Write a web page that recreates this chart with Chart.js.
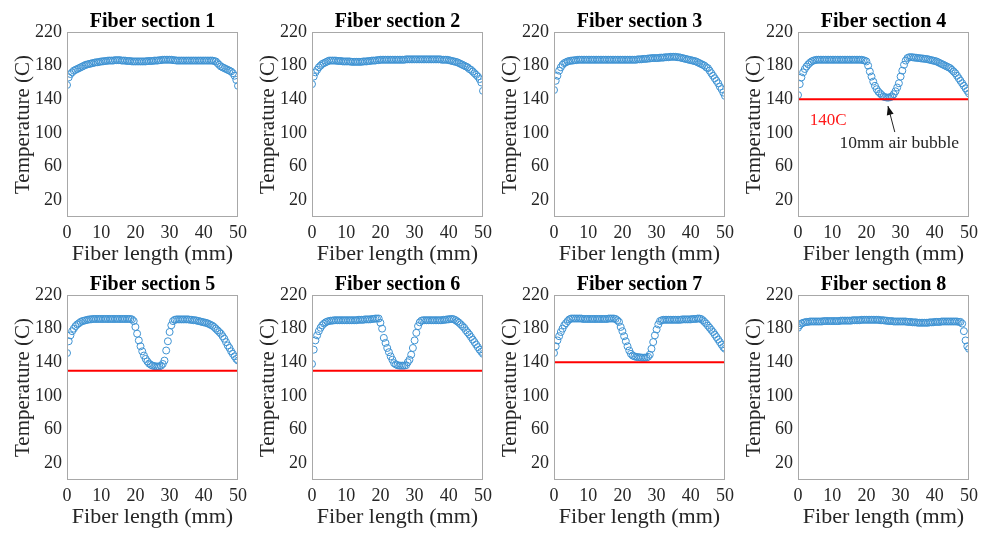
<!DOCTYPE html>
<html><head><meta charset="utf-8">
<script src="https://cdn.jsdelivr.net/npm/chart.js@4.4.0/dist/chart.umd.min.js"></script>
<style>
html,body{margin:0;padding:0;background:#fff;}
#wrap{position:relative;width:984px;height:535px;overflow:hidden;background:#fff;}
#wrap canvas{position:absolute;}
</style></head><body><div id="wrap"></div>
<script>
// ---------- data ----------
const panelTitles = ['Fiber section 1','Fiber section 2','Fiber section 3','Fiber section 4',
                     'Fiber section 5','Fiber section 6','Fiber section 7','Fiber section 8'];
const xTickLabels = [0,10,20,30,40,50];
const yTickLabels = [20,60,100,140,180,220];
// sampling positions along the fiber (mm), 0.5 mm grid
const fiberLength = Array.from({length:101},(_,i)=>i*0.5);

const section1 = [157,166,170,172,174,175,176,177,178,179,
  180,181,181.5,182,182.5,183,183.5,184,184,184.5,
  185,185,185.5,185.5,186,186,186,186,186.5,186.5,
  186.5,186.5,186,186,186,185.5,185.5,185.5,185,185,
  185,185,185,185,185,185,185,185.5,185.5,185.5,
  185.5,186,186,186,186.5,186.5,187,187,187,187,
  187,187,186.5,186.5,186,186,186,186,186,186,
  186,186,186,186,186,186,186,186,186,186,
  186,186,186,186,186,186,185.5,185,183,181,
  179,178,177,176,175,174,173,171,168,163,
  156];
const section2 = [158,167,172,175,178,180,182,183,184,185,
  186,186,186,186,186,185.5,185.5,185.5,185,185,
  185,185,185,184.5,184.5,184.5,184.5,184.5,184.5,184.5,
  185,185,185,185.5,185.5,186,186,186,186.5,186.5,
  187,187,187,187,187,187,187,187,187,187,
  187,187,187,187,187,187.5,187.5,187.5,187.5,187.5,
  187.5,187.5,187.5,187.5,187.5,187.5,187.5,187.5,187.5,187.5,
  187.5,187.5,187.5,187.5,187.5,187.5,187,187,187,187,
  186.5,186,185.5,185,184.5,184,183,182,181,180,
  179,178,176,175,173,171,169,167,164,160,
  150];
const section3 = [151,162,168,174,178,181,183,184,185,185.5,
  186,186,186.5,186.5,187,187,187,187,187,187,
  187,187,187,187,187,187,187,187,187,187,
  187,187,187,187,187,187,187,187,187,187,
  187,187,187,187,187,187,187,187,187,187.5,
  187.5,187.5,188,188,188,188.5,188.5,189,189,189,
  189,189,189.5,189.5,189.5,190,190,190,190.5,190.5,
  190.5,190.5,190,190,189.5,189,188.5,188,187.5,187,
  186.5,186,185.5,185,184,183,182,181,180,178,
  177,174,171,168,165,162,159,155,152,148,
  144];
const section4 = [145,158,166,172,176,179,181.5,183.5,185,186,
  186.5,187,187,187,187,187,187,187,187,187,
  187,187,187,187,187,187,187,187,187,187,
  187,187,187,187,187,187,187,187,186.5,186,
  185,180,173,167,161,156,152,149,147,145,
  143,142.5,142,142,142.5,143.5,146,149.5,154,159,
  167,174,181,186,189,190,190,190,189.5,189.5,
  189,189,188.5,188.5,188,188,187.5,187,186.5,186,
  185.5,185,184,183,182,181,180,179,178,177,
  175,173,171,168,165,162,159,156,153,150,
  147];
const section5 = [151,165,172,177,180,183,185,186.5,188,189,
  189.5,190,190.5,191,191,191.5,191.5,191.5,191.5,191.5,
  191.5,191.5,191.5,191.5,191.5,191.5,191.5,191.5,191.5,191.5,
  191.5,191.5,191.5,191.5,191.5,191.5,191.5,191.5,191,189,
  182,174,166,159,153,148,144,141,138.5,137,
  136,135.5,135,135,135,136,138,142,154,165,
  176,184,189,190.5,191,191,191,191,191,191,
  191,191,190.5,190.5,190,190,189.5,189,188.5,188,
  187.5,187,186.5,185.5,184.5,183.5,182,180,178,176,
  174,171,168,164,160,157,153,150,147,144,
  142];
const section6 = [138,155,166,172,177,181,184,186,187.5,188.5,
  189,189.5,189.5,190,190,190,190,190,190,190,
  190,190,190,190,190,190,190,190.5,190.5,190.5,
  190.5,191,191,191,191,191.5,191.5,192,192,192,
  187,180,169,163,157,152,147,143,139,137.5,
  136.5,136,136,136,136,136.5,140,143,149,157,
  166,175,183,187.5,189.5,190,190,190,190,190,
  190,190,190,190,190,190,190,190.5,190.5,191,
  191,191.5,191.5,191,190,188.5,187,185,183,181,
  178,175.5,173,170,167,164,161,158,155,152.5,
  150];
const section7 = [151,159,166,171,176,180,184,186.5,189,191,
  192,192,192,192,192,192,192,191.5,191.5,191.5,
  191.5,191.5,191.5,191.5,191.5,191.5,191.5,191.5,191.5,191.5,
  191.5,191.5,192,192,192,192,191.5,190,188,182,
  177,171,165,159,154,150,148,147,146.5,146,
  146,145.5,145.5,145.5,145.5,146.5,149,156,164,172,
  179,185,189,190,190.5,190.5,190.5,190.5,190.5,190.5,
  190.5,190.5,190.5,190.5,190.5,191,191,191,191,191,
  191,191.5,191.5,191.5,192,192,191.5,190,188,186,
  183.5,181,178.5,176,173,170,167,164,161,158,
  156];
const section8 = [181,184,186,187,187.5,188,188,188.5,188.5,188.5,
  188.5,188.5,188.5,188.5,188.5,189,189,189,189,189,
  189,189,189,189,189,189.5,189.5,189.5,189.5,189.5,
  189.5,189.5,190,190,190,190,190,190.5,190.5,190.5,
  190.5,190.5,190.5,190.5,190.5,190.5,190.5,190.5,190,190,
  190,189.5,189.5,189,189,189,188.5,188.5,188.5,188.5,
  188.5,188.5,188.5,188.5,188,188,188,187.5,187.5,187.5,
  187,187,187,187,187,187,187,187.5,187.5,187.5,
  188,188,188,188,188.5,188.5,188.5,188.5,188.5,188.5,
  188.5,188.5,188.5,188.5,188,188,186,177,166,159,
  156];
const sections = [section1,section2,section3,section4,section5,section6,section7,section8];
// red threshold lines (C); null = none
const thresholds = [null,null,null,140,130,130,140,null];

// ---------- styling ----------
const SERIF = "'Liberation Serif','Times New Roman',serif";
const MARKER = '#3f93d3';
const TXT = '#262626';
const plotLefts = [67,312,554,798];
const plotTops = [32,295];
const PLOT_W = 175, PLOT_H = 185, Y_AXIS_W = 67, TITLE_H = 32, X_AXIS_H = 50, PAD_R = 10;

const boxPlugin = {
  id:'box',
  afterDraw(chart){
    const {ctx, chartArea:a} = chart;
    ctx.save();
    ctx.strokeStyle = '#a8a8a8'; ctx.lineWidth = 1;
    ctx.strokeRect(Math.round(a.left)+0.5, Math.round(a.top)+0.5, Math.round(a.right-a.left)-1, Math.round(a.bottom-a.top)-1);
    ctx.restore();
  }
};

// panel title centred over the plot box
const panelTitlePlugin = {
  id:'panelTitle',
  afterDraw(chart){
    const t = chart.options.plugins.panelTitle;
    if(!t || !t.text) return;
    const {ctx, chartArea:a} = chart;
    ctx.save();
    ctx.font = 'bold 20px ' + SERIF;
    ctx.fillStyle = '#000'; ctx.textAlign = 'center'; ctx.textBaseline = 'alphabetic';
    ctx.fillText(t.text, (a.left + a.right) / 2, a.top - 5);
    ctx.restore();
  }
};

const bubbleNote = {label:'140C', labelX:3.4, labelY:115, text:'10mm air bubble', textX:29.6, textY:87, arrowFrom:[28.3,101], arrowTo:[26.3,132]};
const notePlugin = {
  id:'note',
  afterDraw(chart){
    const n = chart.options.plugins.note;
    if(!n || !n.label) return;
    const {ctx} = chart; const xs = chart.scales.x, ys = chart.scales.y;
    ctx.save();
    ctx.font = '17px ' + SERIF;
    ctx.textBaseline = 'middle';
    ctx.fillStyle = '#ff1a1a'; ctx.textAlign = 'left';
    ctx.fillText(n.label, xs.getPixelForValue(n.labelX), ys.getPixelForValue(n.labelY));
    ctx.fillStyle = TXT; ctx.textAlign = 'center';
    ctx.font = '17.5px ' + SERIF;
    ctx.fillText(n.text, xs.getPixelForValue(n.textX), ys.getPixelForValue(n.textY));
    const x1 = xs.getPixelForValue(n.arrowFrom[0]), y1 = ys.getPixelForValue(n.arrowFrom[1]);
    const x2 = xs.getPixelForValue(n.arrowTo[0]), y2 = ys.getPixelForValue(n.arrowTo[1]);
    ctx.strokeStyle = '#222'; ctx.fillStyle = '#111'; ctx.lineWidth = 1;
    ctx.beginPath(); ctx.moveTo(x1,y1); ctx.lineTo(x2,y2); ctx.stroke();
    const ang = Math.atan2(y2-y1, x2-x1), L = 9, W = 3.5;
    ctx.beginPath();
    ctx.moveTo(x2,y2);
    ctx.lineTo(x2 - L*Math.cos(ang) + W*Math.sin(ang), y2 - L*Math.sin(ang) - W*Math.cos(ang));
    ctx.lineTo(x2 - L*Math.cos(ang) - W*Math.sin(ang), y2 - L*Math.sin(ang) + W*Math.cos(ang));
    ctx.closePath(); ctx.fill();
    ctx.restore();
  }
};

const wrap = document.getElementById('wrap');
sections.forEach((vals, i) => {
  const col = i % 4, row = Math.floor(i / 4);
  const cv = document.createElement('canvas');
  const W = Y_AXIS_W + PLOT_W + PAD_R, H = TITLE_H + PLOT_H + X_AXIS_H;
  cv.width = W; cv.height = H;
  cv.style.left = (plotLefts[col] - Y_AXIS_W) + 'px';
  cv.style.top = (plotTops[row] - TITLE_H) + 'px';
  cv.style.width = W + 'px'; cv.style.height = H + 'px';
  wrap.appendChild(cv);

  const datasets = [{
    data: fiberLength.map((x, j) => ({x, y: vals[j]})),
    showLine:false, pointStyle:'circle', pointRadius:3.5, pointBorderWidth:1,
    pointBorderColor: MARKER, pointBackgroundColor:'rgba(0,0,0,0)', order:2
  }];
  if (thresholds[i] !== null) {
    datasets.push({
      data:[{x:xTickLabels[0], y:thresholds[i]}, {x:xTickLabels[xTickLabels.length-1], y:thresholds[i]}],
      showLine:true, borderColor:'#ff0000', borderWidth:2, pointRadius:0, order:1
    });
  }
  new Chart(cv, {
    type:'scatter',
    data:{datasets},
    options:{
      responsive:false, animation:false, events:[], devicePixelRatio:1,
      layout:{padding:{left:0, right:PAD_R, top:TITLE_H, bottom:0}},
      plugins:{
        legend:{display:false}, tooltip:{enabled:false}, title:{display:false},
        panelTitle:{text:panelTitles[i]},
        note: i === 3 ? bubbleNote : null
      },
      scales:{
        x:{type:'linear', min:0, max:50,
          afterBuildTicks:s=>{s.ticks = xTickLabels.map(v=>({value:v}));},
          afterFit:s=>{s.height = X_AXIS_H;},
          grid:{display:false, drawTicks:false}, border:{display:false},
          ticks:{font:{family:SERIF, size:18}, color:TXT, padding:5, maxRotation:0, autoSkip:false},
          title:{display:true, text:'Fiber length (mm)', color:TXT, font:{family:SERIF, size:22, lineHeight:1.2}, padding:{top:0, bottom:0}}
        },
        y:{type:'linear', min:0, max:220,
          afterBuildTicks:s=>{s.ticks = yTickLabels.map(v=>({value:v}));},
          afterFit:s=>{s.width = Y_AXIS_W;},
          grid:{display:false, drawTicks:false}, border:{display:false},
          ticks:{font:{family:SERIF, size:18}, color:TXT, padding:5, autoSkip:false},
          title:{display:true, text:'Temperature (C)', color:TXT, font:{family:SERIF, size:21, lineHeight:1.2}, padding:{top:11, bottom:0}}
        }
      }
    },
    plugins:[boxPlugin, panelTitlePlugin, notePlugin]
  });
});
</script>
</body></html>
